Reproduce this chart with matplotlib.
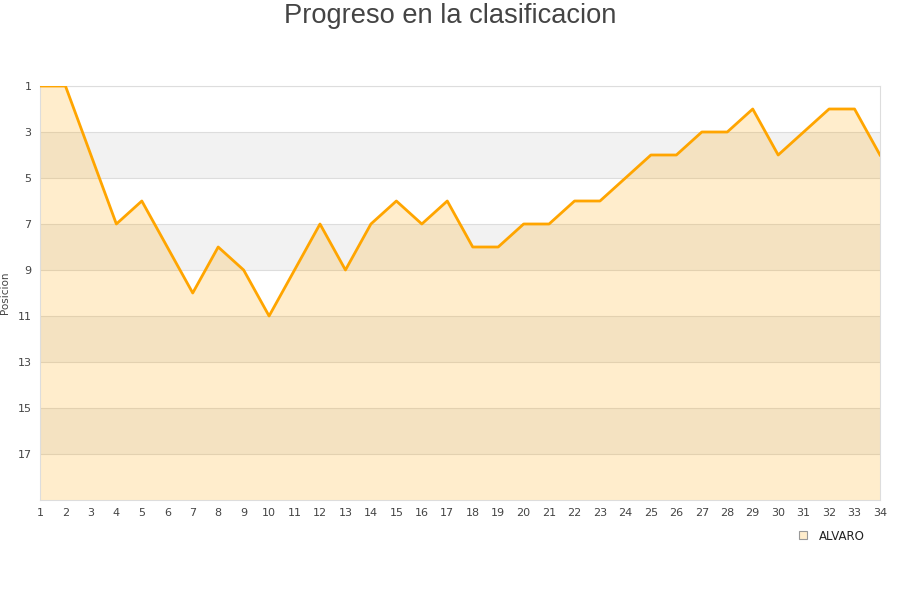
import matplotlib
matplotlib.use("Agg")
import matplotlib.pyplot as plt
from matplotlib.lines import Line2D

jornadas = list(range(1, 35))
posiciones = [1, 1, 4, 7, 6, 8, 10, 8, 9, 11, 9, 7, 9, 7, 6, 7, 6, 8, 8, 7,
              7, 6, 6, 5, 4, 4, 3, 3, 2, 4, 3, 2, 2, 4]
y_ticks = [1, 3, 5, 7, 9, 11, 13, 15, 17]
serie = "ALVARO"
titulo = "Progreso en la clasificacion"
ylabel = "Posicion"

fig = plt.figure(figsize=(9, 6), dpi=100)
ax = fig.add_axes([40/900, 1-500/600, 840/900, 414/600])

ax.set_xlim(1, 34)
ax.set_ylim(19, 1)

# alternating bands
for lo in [3, 7, 11, 15]:
    ax.axhspan(lo, lo + 2, color="#F2F2F2", zorder=0, lw=0)
for t in y_ticks:
    ax.axhline(t, color="#DDDDDD", lw=0.8, zorder=1)

ax.fill_between(jornadas, posiciones, 19, color="#FFA500", alpha=0.2, lw=0, zorder=2)
ax.plot(jornadas, posiciones, color="#FFA500", lw=2, zorder=3)

ax.set_yticks(y_ticks)
ax.set_xticks(jornadas)
ax.tick_params(axis="both", length=0, labelsize=8, colors="#444444", pad=6)
for s in ["top", "right", "bottom", "left"]:
    ax.spines[s].set_color("#DDDDDD")
    ax.spines[s].set_linewidth(0.8)
ax.set_ylabel(ylabel, fontsize=7.5, color="#444444")
ax.yaxis.set_label_coords(-30/840, 0.5)

fig.text(0.5, 1 - 16/600, titulo, ha="center", va="center", fontsize=19.6,
         color="#444444", family=["Liberation Sans", "DejaVu Sans"])

handle = Line2D([], [], marker="s", linestyle="none", markersize=6,
                markerfacecolor="#FFEDCC", markeredgecolor="#999999", markeredgewidth=0.8)
fig.legend([handle], [serie], loc="center", bbox_to_anchor=(828/900, 1 - 536/600),
           frameon=False, fontsize=8.5, handletextpad=0.4, labelcolor="#222222")

fig.savefig("out.png", dpi=100)
